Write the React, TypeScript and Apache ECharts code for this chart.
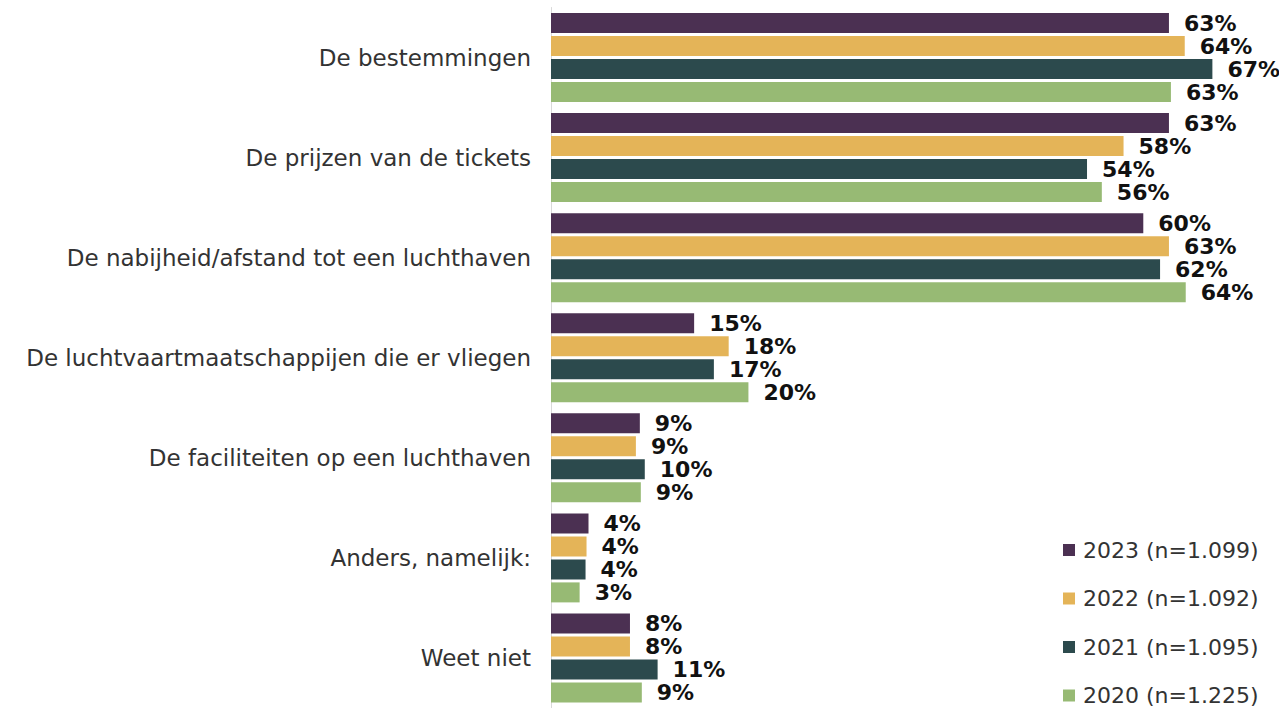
import React, { useEffect, useRef } from "react";
import * as echarts from "echarts";

const categories = [
  "De bestemmingen",
  "De prijzen van de tickets",
  "De nabijheid/afstand tot een luchthaven",
  "De luchtvaartmaatschappijen die er vliegen",
  "De faciliteiten op een luchthaven",
  "Anders, namelijk:",
  "Weet niet",
];

const seriesNames = ["2023 (n=1.099)", "2022 (n=1.092)", "2021 (n=1.095)", "2020 (n=1.225)"];
const values2023 = [62.6, 62.6, 60.0, 14.5, 9.0, 3.8, 8.0];
const values2022 = [64.2, 58.0, 62.6, 18.0, 8.6, 3.6, 8.0];
const values2021 = [67.0, 54.3, 61.7, 16.5, 9.5, 3.5, 10.8];
const values2020 = [62.8, 55.8, 64.3, 20.0, 9.1, 2.9, 9.2];
const colors = ["#4b3052", "#e4b458", "#2c4a4d", "#97ba74"];

export default function App() {
  const ref = useRef<HTMLDivElement>(null);
  useEffect(() => {
    if (!ref.current) return;
    const chart = echarts.init(ref.current, null, { renderer: "svg" });
    const allValues = [values2023, values2022, values2021, values2020];
    const legendCenters = [550, 598.5, 647, 695.5];
    chart.setOption({
      animation: false,
      color: colors,
      grid: { left: 551, right: 37, top: 7.5, height: 702.5, containLabel: false },
      legend: seriesNames.map((name, i) => ({
        orient: "vertical",
        left: 1063,
        top: legendCenters[i] - 11,
        padding: 0,
        itemWidth: 12,
        itemHeight: 12,
        icon: "rect",
        data: [name],
        textStyle: {
          fontSize: 22,
          lineHeight: 22,
          color: "#333",
          fontFamily: "DejaVu Sans",
          padding: [0, 0, 0, 3],
        },
      })),
      xAxis: { type: "value", min: 0, max: 70, show: false },
      yAxis: {
        type: "category",
        inverse: true,
        data: categories,
        axisTick: { show: false },
        axisLine: { show: true, lineStyle: { color: "#d9d9d9", width: 1 } },
        axisLabel: { margin: 20, fontSize: 23, color: "#333", fontFamily: "DejaVu Sans" },
      },
      series: seriesNames.map((name, i) => ({
        name,
        type: "bar",
        data: allValues[i],
        barWidth: 20,
        barGap: "15%",
        label: {
          show: true,
          position: "right",
          distance: 15,
          fontSize: 22,
          fontWeight: "bold",
          color: "#111",
          fontFamily: "DejaVu Sans",
          formatter: (p: any) => Math.round(p.value) + "%",
        },
      })),
    });
    return () => chart.dispose();
  }, []);
  return (
    <div
      ref={ref}
      style={{ position: "fixed", left: 0, top: 0, width: 1279, height: 708, background: "#fff" }}
    />
  );
}
